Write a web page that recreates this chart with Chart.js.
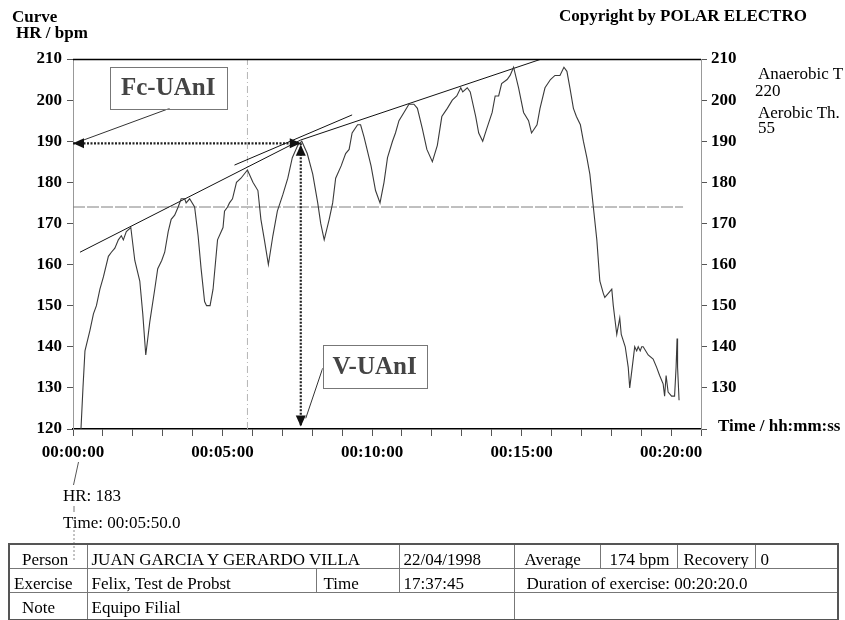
<!DOCTYPE html>
<html>
<head>
<meta charset="utf-8">
<script src="https://cdn.jsdelivr.net/npm/chart.js@4.4.1/dist/chart.umd.min.js"></script>
<style>
html, body { margin: 0; padding: 0; background: #fff; }
#wrap { position: relative; width: 845px; height: 620px; overflow: hidden;
        font-family: "Liberation Serif", "Times New Roman", serif; color: #000; }
canvas { position: absolute; left: 0; top: 0; }
.t { position: absolute; font-size: 17px; line-height: 17px; white-space: nowrap; }
.b { font-weight: bold; }
table { position: absolute; left: 8px; top: 543px; border-collapse: collapse; table-layout: fixed;
        width: 829px; font-size: 17px; line-height: 17px; border: 2px solid #555; }
td { border: 1px solid #777; padding: 6px 0 0 4px; height: 23px; box-sizing: border-box;
     vertical-align: top; white-space: nowrap; overflow: hidden; }
tr.last td { height: 27px; }
svg { position: absolute; left: 0; top: 0; }
</style>
</head>
<body>
<div id="wrap">
  <canvas id="c" width="845" height="620"></canvas>

  <div class="t b" style="left:12px;top:8px;">Curve</div>
  <div class="t b" style="left:16px;top:24px;">HR / bpm</div>
  <div class="t b" style="left:559px;top:7px;">Copyright by POLAR ELECTRO</div>
  <div class="t" style="left:758px;top:65px;">Anaerobic T</div>
  <div class="t" style="left:755px;top:82px;">220</div>
  <div class="t" style="left:758px;top:104px;">Aerobic Th.</div>
  <div class="t" style="left:758px;top:119px;">55</div>
  <div class="t b" style="left:718px;top:417px;">Time / hh:mm:ss</div>
  <div class="t" style="left:63px;top:487px;">HR: 183</div>
  <div class="t" style="left:63px;top:514px;">Time: 00:05:50.0</div>

  <svg width="845" height="620">
    <line x1="78.5" y1="462" x2="73.5" y2="485" stroke="#555" stroke-width="1"/>
    <line x1="74" y1="506" x2="74" y2="512" stroke="#777" stroke-width="1"/>
    <line x1="74" y1="530" x2="74" y2="562" stroke="#888" stroke-width="1" stroke-dasharray="2,2"/>
  </svg>

  <table>
    <colgroup>
      <col style="width:78px"><col style="width:229px"><col style="width:83px"><col style="width:115px">
      <col style="width:86px"><col style="width:77px"><col style="width:78px"><col style="width:83px">
    </colgroup>
    <tr>
      <td style="padding-left:12px">Person</td>
      <td colspan="2">JUAN GARCIA Y GERARDO VILLA</td>
      <td>22/04/1998</td>
      <td style="padding-left:10px">Average</td>
      <td style="padding-left:9px">174 bpm</td>
      <td style="padding-left:6px">Recovery</td>
      <td style="padding-left:5px">0</td>
    </tr>
    <tr>
      <td style="padding-left:4px">Exercise</td>
      <td>Felix, Test de Probst</td>
      <td style="padding-left:7px">Time</td>
      <td>17:37:45</td>
      <td colspan="4" style="padding-left:12px">Duration of exercise: 00:20:20.0</td>
    </tr>
    <tr class="last">
      <td style="padding-left:12px">Note</td>
      <td colspan="3">Equipo Filial</td>
      <td colspan="4"></td>
    </tr>
  </table>
</div>

<script>
// Heart-rate recording, elapsed time in seconds and bpm
const timeSec = [16, 20, 24, 34, 41, 47, 54, 61, 71, 77, 84, 91, 97, 101, 107, 116, 124, 134, 140, 146,
  154, 164, 170, 178, 184, 191, 197, 204, 211, 217, 224, 227, 234, 244, 251, 257, 264, 268, 275, 281,
  290, 301, 304, 310, 314, 320, 328, 337, 350, 361, 371, 377, 384, 392, 401, 410, 421, 431, 440, 451,
  459, 470, 481, 491, 497, 504, 514, 521, 527, 538, 547, 554, 560, 571, 577, 584, 598, 607, 616, 624,
  631, 641, 647, 654, 664, 674, 684, 691, 701, 710, 721, 731, 740, 751, 761, 770, 778, 782, 791, 797,
  808, 814, 822, 830, 841, 847, 854, 860, 871, 877, 884, 894, 904, 914, 920, 931, 937, 947, 958, 967,
  977, 985, 991, 997, 1004, 1010, 1018, 1024, 1031, 1037, 1044, 1051, 1057, 1064, 1067, 1074, 1081, 1084, 1091, 1097,
  1100, 1108, 1114, 1117, 1124, 1127, 1131, 1134, 1138, 1141, 1144, 1154, 1164, 1171, 1177, 1184, 1187, 1190, 1194, 1201,
  1207, 1210, 1212, 1213, 1216];
const heartRate = [120, 130, 139, 144, 148, 150, 154, 157, 162, 163, 164, 166, 167, 166, 168, 169, 161, 156, 148, 138,
  146, 154, 159, 161, 163, 168, 171, 172, 174, 176, 176, 175, 176, 174, 167, 159, 151, 150, 150, 154,
  166, 169, 173, 174, 175, 176, 180, 181, 183, 180, 178, 171, 166, 160, 167, 173, 177, 181, 186, 189,
  190, 187, 182, 175, 170, 166, 171, 175, 181, 184, 187, 188, 192, 194, 194, 191, 184, 178, 175, 180,
  186, 190, 192, 195, 197, 199, 199, 198, 193, 188, 185, 189, 196, 198, 200, 201, 203, 202, 203, 202,
  196, 192, 190, 193, 197, 201, 201, 204, 205, 206, 208, 203, 197, 195, 192, 194, 198, 203, 205, 206,
  206, 208, 207, 203, 198, 196, 194, 190, 186, 182, 174, 166, 156, 153, 152, 153, 154, 150, 143, 147,
  143, 140, 135, 130, 137, 140, 139, 140, 139, 140, 140, 138, 137, 135, 133, 131, 128, 133, 129, 128,
  128, 135, 142, 135, 127];

// Axis ranges
const timeMin = 0, timeMax = 1260, timeStep = 60, timeLabelEvery = 300;
const hrMin = 120, hrMax = 210, hrStep = 10;

// Reference marks
const averageHR = 174;
const averageEnd = 1224;
const cursorTime = 350;
const thresholdHR = 189.5;     // Fc-UAnI
const thresholdTime = 457;     // V-UAnI
const arrowBottomHR = 120.6;

// Peak envelope and local tangent at the deflection point
const envelopeT = [14, 457, 940];
const envelopeHR = [163, 190.3, 210];
const tangentT = [324, 560];
const tangentHR = [184.2, 196.4];

// Label boxes [tStart, tEnd, hrTop, hrBottom] and their pointer lines
const fcBox = [74, 308, 208.1, 198.0];
const fcPointerT = [194, 17], fcPointerHR = [198.0, 190.1];
const vBox = [501, 709, 140.4, 129.9];
const vPointerT = [501, 467], vPointerHR = [134.8, 122.6];

const FONT = "'Liberation Serif', 'Times New Roman', serif";

function pts(ts, vs) { return ts.map((t, i) => ({ x: t, y: vs[i] })); }
function hms(s) {
  const h = Math.floor(s / 3600), m = Math.floor((s % 3600) / 60), sec = s % 60;
  return [h, m, sec].map(v => String(v).padStart(2, '0')).join(':');
}

function arrowHead(ctx, tx, ty, dir) {
  const L = 11, W = 5;
  ctx.beginPath();
  ctx.moveTo(tx, ty);
  if (dir === 'left')  { ctx.lineTo(tx + L, ty - W); ctx.lineTo(tx + L, ty + W); }
  if (dir === 'right') { ctx.lineTo(tx - L, ty - W); ctx.lineTo(tx - L, ty + W); }
  if (dir === 'up')    { ctx.lineTo(tx - W, ty + L); ctx.lineTo(tx + W, ty + L); }
  if (dir === 'down')  { ctx.lineTo(tx - W, ty - L); ctx.lineTo(tx + W, ty - L); }
  ctx.closePath();
  ctx.fill();
}

function labelBox(ctx, x, y, box, text) {
  const x0 = x.getPixelForValue(box[0]), x1 = x.getPixelForValue(box[1]);
  const y0 = y.getPixelForValue(box[2]), y1 = y.getPixelForValue(box[3]);
  ctx.fillStyle = '#fff';
  ctx.fillRect(x0, y0, x1 - x0, y1 - y0);
  ctx.strokeStyle = '#777';
  ctx.lineWidth = 1;
  ctx.strokeRect(Math.round(x0) + 0.5, Math.round(y0) + 0.5, Math.round(x1 - x0), Math.round(y1 - y0));
  ctx.fillStyle = '#444';
  ctx.font = "bold 25px " + FONT;
  ctx.textAlign = 'center';
  ctx.textBaseline = 'middle';
  ctx.fillText(text, (x0 + x1) / 2, (y0 + y1) / 2 + 1);
}

const overlay = {
  id: 'overlay',
  afterDatasetsDraw(chart) {
    const { ctx, chartArea: a, scales: { x, y } } = chart;
    ctx.save();
    // frame line at the top of the range
    const yTop = Math.round(y.getPixelForValue(hrMax)) + 0.5;
    ctx.strokeStyle = '#000';
    ctx.lineWidth = 1.6;
    ctx.beginPath(); ctx.moveTo(a.left, yTop); ctx.lineTo(a.right, yTop); ctx.stroke();

    // arrow heads of the threshold markers
    ctx.fillStyle = '#111';
    const py = y.getPixelForValue(thresholdHR);
    const px = x.getPixelForValue(thresholdTime);
    arrowHead(ctx, x.getPixelForValue(timeMin), py, 'left');
    arrowHead(ctx, px, py, 'right');
    arrowHead(ctx, px, y.getPixelForValue(thresholdHR) + 1.5, 'up');
    arrowHead(ctx, px, y.getPixelForValue(arrowBottomHR), 'down');

    labelBox(ctx, x, y, fcBox, 'Fc-UAnI');
    labelBox(ctx, x, y, vBox, 'V-UAnI');
    ctx.restore();
  }
};

const tickFont = { family: FONT, size: 17, weight: 'bold' };

new Chart(document.getElementById('c'), {
  type: 'line',
  data: {
    datasets: [
      { data: pts(timeSec, heartRate), borderColor: '#3a3a3a', borderWidth: 1.1, order: 1 },
      { data: pts(envelopeT, envelopeHR), borderColor: '#111', borderWidth: 1, order: 2 },
      { data: pts(tangentT, tangentHR), borderColor: '#111', borderWidth: 1, order: 2 },
      { data: pts([timeMin, averageEnd], [averageHR, averageHR]), borderColor: '#808080', borderWidth: 1,
        borderDash: [12, 2], order: 5 },
      { data: pts([cursorTime, cursorTime], [hrMin, hrMax]), borderColor: '#b5b5b5', borderWidth: 1,
        borderDash: [7, 3, 1, 3], order: 6 },
      { data: pts([timeMin, thresholdTime], [thresholdHR, thresholdHR]), borderColor: '#222', borderWidth: 2.2,
        borderDash: [2, 1.5], order: 3 },
      { data: pts([thresholdTime, thresholdTime], [thresholdHR, arrowBottomHR]), borderColor: '#222', borderWidth: 2.2,
        borderDash: [2, 1.5], order: 3 },
      { data: pts(fcPointerT, fcPointerHR), borderColor: '#333', borderWidth: 1, order: 3 },
      { data: pts(vPointerT, vPointerHR), borderColor: '#333', borderWidth: 1, order: 3 }
    ]
  },
  options: {
    responsive: false,
    animation: false,
    events: [],
    elements: { point: { radius: 0 }, line: { tension: 0 } },
    plugins: { legend: { display: false }, tooltip: { enabled: false } },
    layout: { padding: { top: 59, left: 0, right: 0, bottom: 0 } },
    scales: {
      x: {
        type: 'linear', min: timeMin, max: timeMax,
        afterFit(s) { s.height = 191; },
        ticks: {
          stepSize: timeStep, autoSkip: false, maxRotation: 0, padding: 6,
          font: tickFont, color: '#000',
          callback: v => (v % timeLabelEvery === 0 && v < timeMax) ? hms(v) : ''
        },
        grid: { drawOnChartArea: false, tickLength: 7, color: '#555', tickWidth: 1 },
        border: { color: '#000', width: 1.6 }
      },
      y: {
        position: 'left', min: hrMin, max: hrMax,
        afterFit(s) { s.width = 73; },
        ticks: { stepSize: hrStep, padding: 5, font: tickFont, color: '#000' },
        grid: { drawOnChartArea: false, tickLength: 6, color: '#555' },
        border: { color: '#999', width: 1 }
      },
      y2: {
        position: 'right', min: hrMin, max: hrMax,
        afterFit(s) { s.width = 144; },
        // the lowest right-hand tick is left blank; the time axis title sits there
        ticks: { stepSize: hrStep, padding: 4, font: tickFont, color: '#000',
                 callback: v => v === hrMin ? '' : String(v) },
        grid: { drawOnChartArea: false, tickLength: 6, color: '#555' },
        border: { color: '#999', width: 1 }
      }
    }
  },
  plugins: [overlay]
});
</script>
</body>
</html>
